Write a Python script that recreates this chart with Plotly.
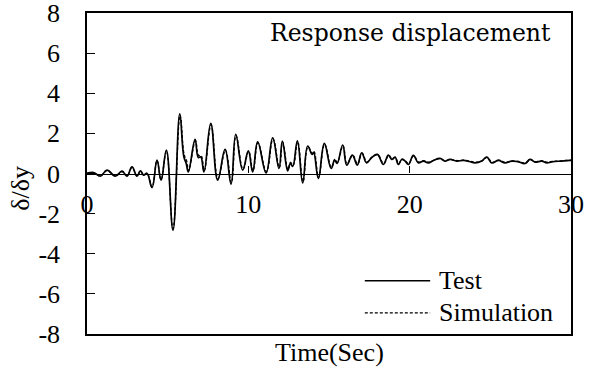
import plotly.graph_objects as go

# Time (s) and normalized displacement
t_test = [0.0, 0.41, 0.83, 1.24, 1.76, 2.17, 2.48, 2.79, 3.10, 3.31, 3.51, 3.72,
          4.03, 4.34, 4.59, 4.92, 5.33, 5.75, 6.0, 6.15, 6.28, 6.70, 6.9, 7.05, 7.25,
          7.67, 8.10, 8.56, 8.93, 9.22, 9.65, 10.0, 10.27, 10.58, 11.1, 11.51, 11.9,
          12.11, 12.44, 12.6, 12.75, 13.04, 13.37, 13.68, 13.95, 14.05, 14.34, 14.71,
          15.13, 15.35, 15.5, 15.85, 16.1, 16.45, 16.75, 17.03, 17.33, 17.65, 18.0,
          18.37, 18.68, 18.89, 19.09, 19.30, 19.51, 19.71, 19.92, 20.23, 20.54, 20.85,
          21.16, 21.47, 21.88, 22.19, 22.50, 22.92, 23.33, 23.7, 24.05, 24.47, 24.78,
          25.09, 25.5, 25.91, 26.33, 26.74, 27.15, 27.46, 27.77, 28.19, 28.5, 28.81,
          29.43, 30.0]
v_test = [0.0, 0.05, -0.13, 0.17, -0.13, 0.12, -0.13, 0.33, -0.13, 0.13, -0.08, 0.0,
          -0.7, 0.67, -0.33, 1.17, -2.83, 2.97, 0.85, 0.5, 0.08, 1.7, 0.8, 0.83, 0.08,
          2.5, -0.33, 1.2, -0.53, 1.95, 0.17, 1.13, 0.08, 1.58, 0.03, 1.78, 0.25,
          1.62, 0.13, 0.5, 0.35, 1.63, -0.47, 1.37, 0.95, 1.05, -0.25, 1.5,
          0.25, 0.67, 0.5, 1.42, 0.42, 0.92, 0.42, 1.03, 0.53, 0.8, 0.95,
          0.45, 0.92, 0.7, 0.82, 0.45, 0.7, 0.62, 0.45, 0.9, 0.53, 0.62,
          0.53, 0.65, 0.75, 0.62, 0.7, 0.62, 0.65, 0.6, 0.53, 0.62, 0.82,
          0.53, 0.65, 0.53, 0.62, 0.58, 0.5, 0.7, 0.57, 0.62, 0.53, 0.58,
          0.62, 0.65]

t_sim = [0.0, 0.41, 0.83, 1.24, 1.76, 2.17, 2.48, 2.79, 3.10, 3.31, 3.51, 3.72,
         4.03, 4.34, 4.59, 4.92, 5.33, 5.77, 6.02, 6.18, 6.30, 6.72, 6.92, 7.07, 7.27,
         7.69, 8.12, 8.58, 8.95, 9.24, 9.67, 10.02, 10.29, 10.60, 11.12, 11.53, 11.92,
         12.13, 12.46, 12.62, 12.78, 13.06, 13.39, 13.70, 13.97, 14.07, 14.36, 14.73,
         15.15, 15.37, 15.52, 15.87, 16.12, 16.47, 16.77, 17.05, 17.35, 17.67, 18.02,
         18.39, 18.70, 18.91, 19.11, 19.32, 19.53, 19.73, 19.94, 20.25, 20.56, 20.87,
         21.18, 21.49, 21.90, 22.21, 22.52, 22.94, 23.35, 23.72, 24.07, 24.49, 24.80,
         25.11, 25.52, 25.93, 26.35, 26.76, 27.17, 27.48, 27.79, 28.21, 28.52, 28.83,
         29.45, 30.0]
v_sim = [0.0, 0.04, -0.12, 0.15, -0.12, 0.1, -0.12, 0.3, -0.12, 0.12, -0.06, 0.02,
         -0.66, 0.64, -0.3, 1.12, -2.75, 2.9, 0.95, 0.62, 0.15, 1.62, 0.9, 0.9, 0.15,
         2.42, -0.25, 1.15, -0.45, 1.88, 0.22, 1.1, 0.14, 1.52, 0.1, 1.72, 0.3,
         1.56, 0.2, 0.55, 0.42, 1.58, -0.4, 1.32, 1.0, 1.1, -0.18, 1.45,
         0.3, 0.72, 0.56, 1.38, 0.48, 0.9, 0.48, 1.0, 0.58, 0.82, 0.92,
         0.5, 0.9, 0.72, 0.8, 0.5, 0.72, 0.64, 0.5, 0.88, 0.57, 0.64,
         0.57, 0.66, 0.74, 0.64, 0.7, 0.64, 0.66, 0.62, 0.56, 0.63, 0.8,
         0.56, 0.66, 0.56, 0.63, 0.6, 0.53, 0.69, 0.59, 0.63, 0.56, 0.6,
         0.63, 0.66]

x_ticks = [0, 10, 20, 30]
y_ticks = [-8, -6, -4, -2, 0, 2, 4, 6, 8]

SERIF = "Liberation Serif"
WIDE_SERIF = "DejaVu Serif"
FS = 26

fig = go.Figure()
fig.add_trace(go.Scatter(x=t_sim, y=v_sim, mode="lines", name="Simulation",
                         line=dict(color="black", width=1.3, dash="3px,2px",
                                   shape="spline", smoothing=1.2),
                         showlegend=False))
fig.add_trace(go.Scatter(x=t_test, y=v_test, mode="lines", name="Test",
                         line=dict(color="black", width=1.7, shape="spline", smoothing=1.2),
                         showlegend=False, xaxis="x2"))

fig.update_layout(
    width=594, height=371,
    margin=dict(l=87, r=23, t=13, b=37, pad=0, autoexpand=False),
    paper_bgcolor="white", plot_bgcolor="white",
    showlegend=False,
    font=dict(family=SERIF, size=FS, color="black"),
    xaxis=dict(range=[0, 30], showline=True, mirror=True, linecolor="black",
               linewidth=1.5, showticklabels=False, ticks="", showgrid=False,
               zeroline=False, automargin=False),
    xaxis2=dict(range=[0, 30], overlaying="x", anchor="free", position=0.5,
                side="bottom", showline=True, linecolor="black", linewidth=1.3,
                ticks="inside", ticklen=7, tickwidth=1.3, tickcolor="black",
                tickvals=x_ticks, ticktext=[str(v) for v in x_ticks],
                tickfont=dict(family=SERIF, size=FS), ticklabelstandoff=7,
                ticklabeloverflow="allow",
                showgrid=False, zeroline=False, automargin=False),
    yaxis=dict(range=[-8, 8], showline=True, mirror=True, linecolor="black",
               linewidth=1.5, ticks="inside", ticklen=8, tickwidth=1.3,
               tickcolor="black", tickvals=y_ticks,
               ticktext=[str(v) for v in y_ticks],
               tickfont=dict(family=SERIF, size=FS), ticklabelstandoff=20,
               ticklabeloverflow="allow",
               showgrid=False, zeroline=False, automargin=False),
)

annotations = [
    dict(text="Response displacement", xref="paper", yref="paper", x=0.963, y=0.9375,
         xanchor="right", yanchor="middle", showarrow=False,
         font=dict(family=WIDE_SERIF, size=23.5)),
    dict(text="δ/δy", xref="paper", yref="paper", x=-0.138, y=0.453, textangle=-90,
         xanchor="center", yanchor="middle", showarrow=False,
         font=dict(family=SERIF, size=FS)),
    dict(text="Time(Sec)", xref="paper", yref="paper", x=0.5, y=-0.058,
         xanchor="center", yanchor="middle", showarrow=False,
         font=dict(family=SERIF, size=FS)),
    dict(text="Test", xref="paper", yref="paper", x=0.723, y=0.166,
         xanchor="left", yanchor="middle", showarrow=False,
         font=dict(family=SERIF, size=FS)),
    dict(text="Simulation", xref="paper", yref="paper", x=0.723, y=0.066,
         xanchor="left", yanchor="middle", showarrow=False,
         font=dict(family=SERIF, size=FS)),
]
fig.update_layout(annotations=annotations)

fig.add_shape(type="line", xref="paper", yref="paper", x0=0.574, x1=0.709,
              y0=0.166, y1=0.166, line=dict(color="black", width=1.5))
fig.add_shape(type="line", xref="paper", yref="paper", x0=0.574, x1=0.709,
              y0=0.066, y1=0.066, line=dict(color="black", width=1.3, dash="3px,2px"))

fig.write_html("out.html")
